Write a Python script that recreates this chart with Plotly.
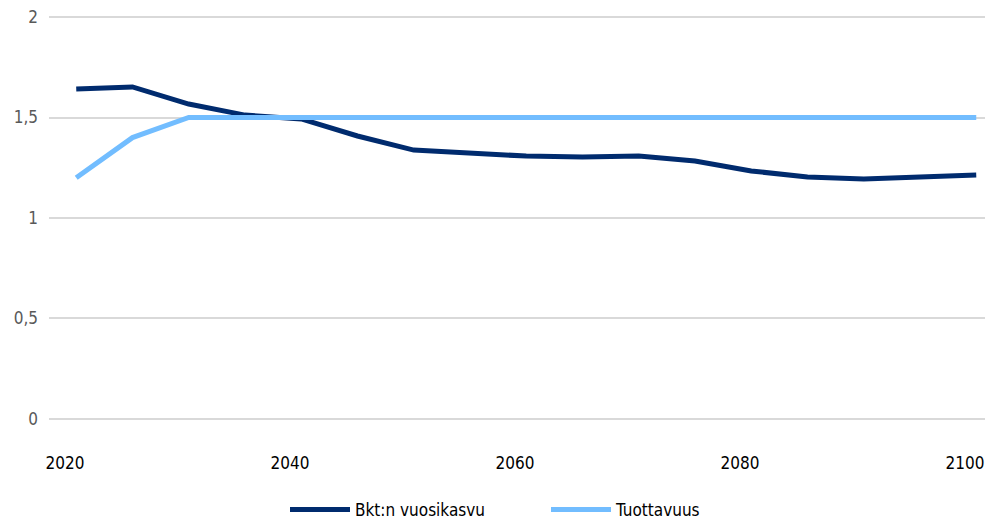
import plotly.graph_objects as go

years = [2021, 2026, 2031, 2036, 2041, 2046, 2051, 2056, 2061, 2066, 2071, 2076, 2081, 2086, 2091, 2096, 2101]
bkt = [1.642, 1.652, 1.567, 1.512, 1.493, 1.408, 1.338, 1.323, 1.308, 1.303, 1.308, 1.284, 1.234, 1.204, 1.194, 1.204, 1.214]
tuottavuus = [1.2, 1.4, 1.5, 1.5, 1.5, 1.5, 1.5, 1.5, 1.5, 1.5, 1.5, 1.5, 1.5, 1.5, 1.5, 1.5, 1.5]
names = ["Bkt:n vuosikasvu", "Tuottavuus"]
x_ticks = [2020, 2040, 2060, 2080, 2100]
y_ticks = [0, 0.5, 1, 1.5, 2]

FONT = "DejaVu Sans Condensed, Liberation Sans Narrow, sans-serif"

W, H = 985, 513

fig = go.Figure()
fig.add_trace(go.Scatter(x=years, y=bkt, name=names[0], mode="lines",
                         line=dict(color="#002B6E", width=5)))
fig.add_trace(go.Scatter(x=years, y=tuottavuus, name=names[1], mode="lines",
                         line=dict(color="#72BDFF", width=5)))

fig.update_layout(
    width=W, height=H,
    margin=dict(l=41, r=0, t=5, b=98, autoexpand=False),
    plot_bgcolor="white", paper_bgcolor="white",
    separators=", ",
    font=dict(family=FONT, size=17, color="#000000"),
    showlegend=True,
    legend=dict(orientation="h", x=277 / W, xanchor="left", xref="container",
                y=(H - 502) / H, yanchor="middle", yref="container",
                font=dict(family=FONT, size=17, color="#000000"), itemwidth=60,
                traceorder="normal", entrywidth=186),
    xaxis=dict(range=[2018.58, 2102.49], tickvals=x_ticks, showgrid=False, zeroline=False,
               showline=False, ticks="", ticklabelstandoff=28, automargin=False,
               ticklabeloverflow="allow",
               tickfont=dict(family=FONT, size=17, color="#000000")),
    yaxis=dict(range=[-0.02, 2.02], tickvals=y_ticks, showgrid=True, gridcolor="#D9D9D9", gridwidth=1.5,
               zeroline=False, showline=False, ticks="", ticklabelstandoff=10, automargin=False,
               ticklabeloverflow="allow",
               tickfont=dict(family=FONT, size=17, color="#595959")),
)

fig.write_html("out.html")
